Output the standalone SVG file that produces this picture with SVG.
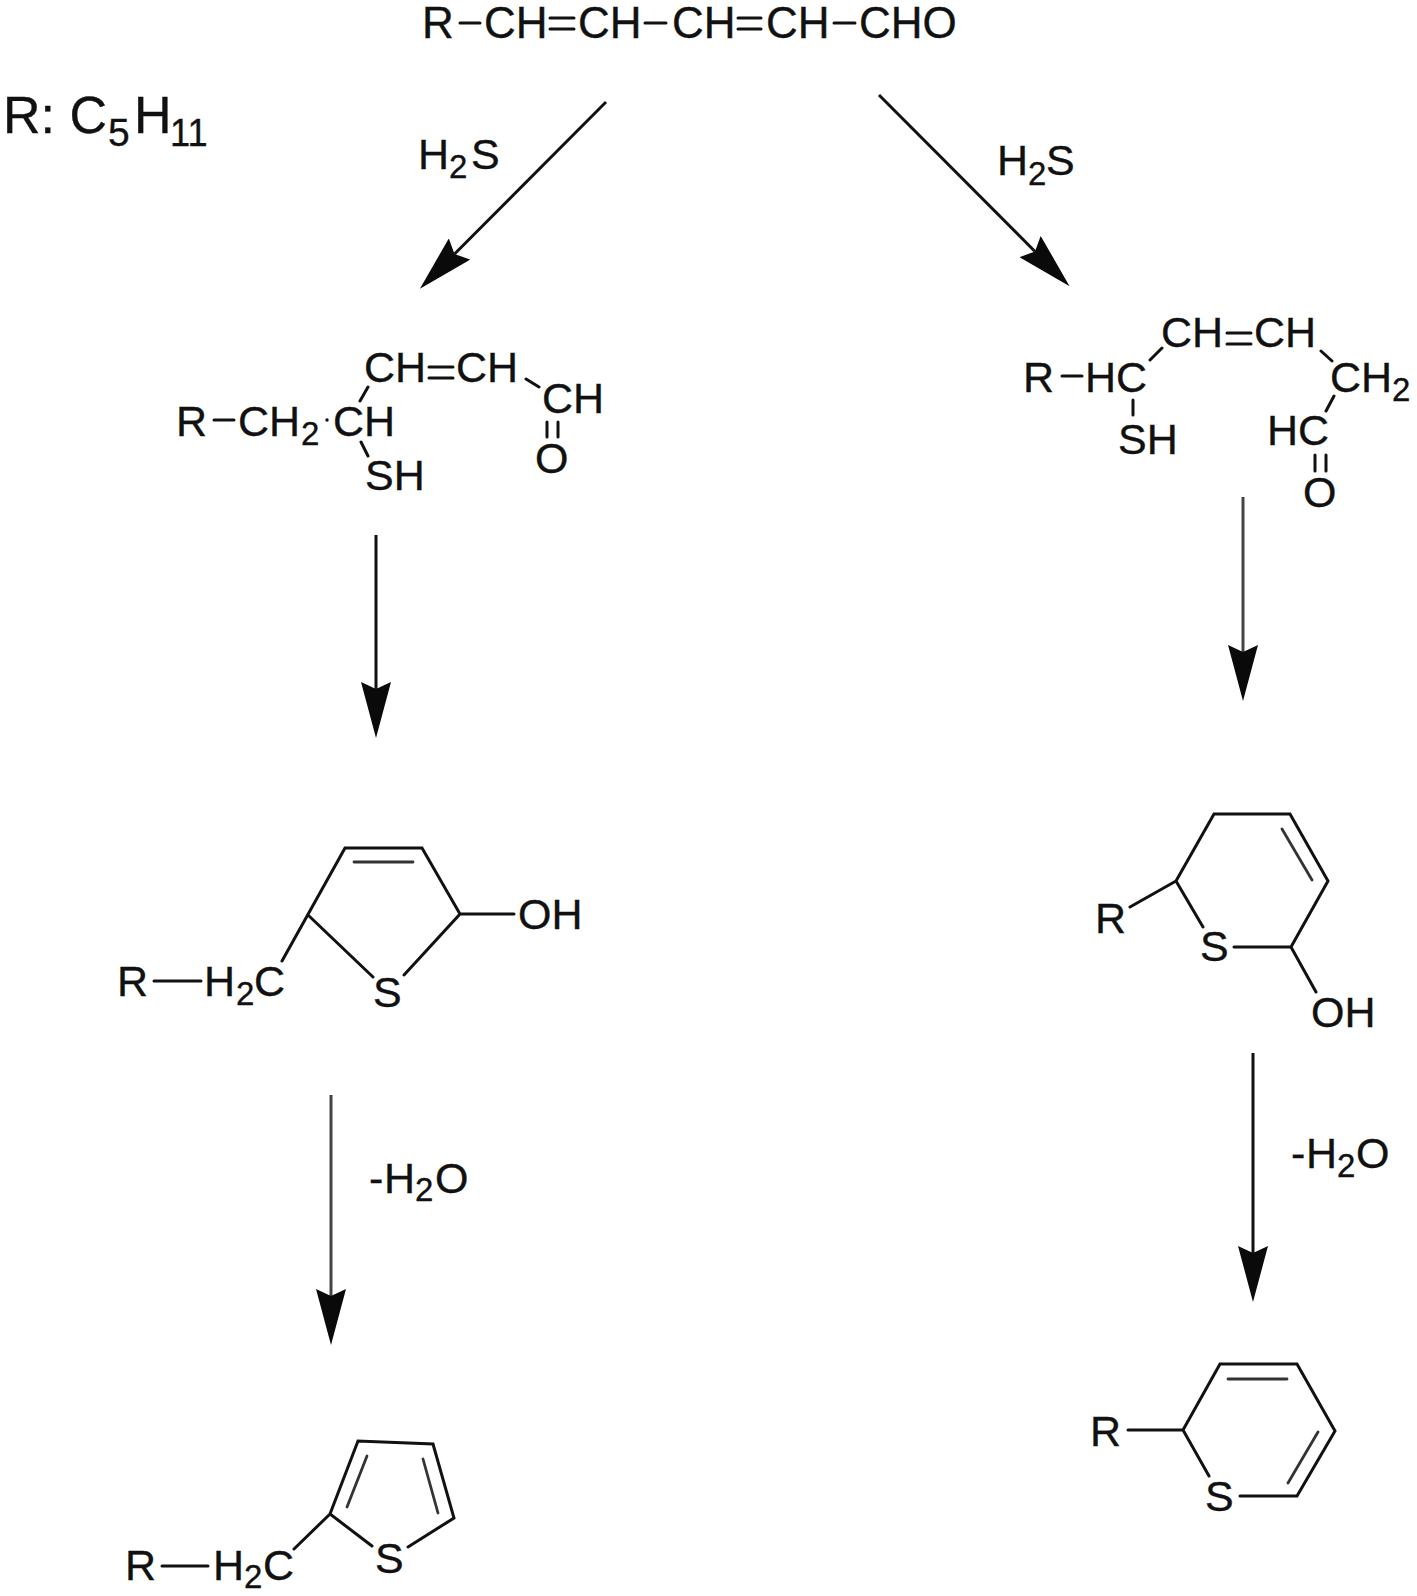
<svg xmlns="http://www.w3.org/2000/svg" width="1417" height="1596" viewBox="0 0 1417 1596">
<style>
text{font-family:"Liberation Sans",Arial,sans-serif;fill:#111;stroke:#111;stroke-width:.35px;font-size:43px}
.top{font-size:44px}
.big{font-size:52px}
.bs{font-size:39px}
.sub{font-size:33px}
.b{stroke:#111;stroke-width:3;fill:none;stroke-linecap:round;stroke-linejoin:miter}
.bi{stroke:#333;stroke-width:2.8;fill:none;stroke-linecap:round}
.a{stroke:#111;stroke-width:3;fill:none;marker-end:url(#head)}
.ag{stroke:#444;stroke-width:3;fill:none;marker-end:url(#head)}
</style>
<defs>
<marker id="head" viewBox="-7 -15 56 30" markerWidth="56" markerHeight="30" refX="0" refY="0" markerUnits="userSpaceOnUse" orient="auto">
<path d="M-7,-15 L49,0 L-7,15 L0,0 Z" fill="#0a0a0a"/>
</marker>
</defs>
<rect width="1417" height="1596" fill="#fff"/>
<g id="connectors">
<line class="a" x1="606" y1="102" x2="454.5" y2="254"/>
<line class="a" x1="879" y1="95" x2="1035" y2="251.5"/>
<line class="a" x1="376" y1="535" x2="376" y2="689"/>
<line class="ag" x1="1243" y1="497" x2="1243" y2="652"/>
<line class="ag" x1="331" y1="1095" x2="331" y2="1296"/>
<line class="a" x1="1253" y1="1053" x2="1253" y2="1253"/>
</g>
<g id="legend">
<text class="big" x="3" y="133">R: C</text>
<text class="bs" x="108" y="146">5</text>
<text class="big" x="134" y="133">H</text>
<text class="bs" transform="translate(170,146) scale(.93,1)">11</text>
</g>
<g id="label-h2s-left"><text x="418" y="169">H<tspan class="sub" x="449" y="178">2</tspan><tspan x="471" y="169">S</tspan></text></g>
<g id="label-h2s-right"><text x="997" y="175">H<tspan class="sub" x="1028" y="185">2</tspan><tspan x="1046" y="175">S</tspan></text></g>
<g id="label-h2o-left"><text x="369" y="1193">-<tspan x="384" y="1193">H</tspan><tspan class="sub" x="415" y="1201">2</tspan><tspan x="435" y="1193">O</tspan></text></g>
<g id="label-h2o-right"><text x="1291" y="1168">-<tspan x="1306" y="1168">H</tspan><tspan class="sub" x="1337" y="1177">2</tspan><tspan x="1356" y="1168">O</tspan></text></g>
<g id="node-dienal">
<text class="top" x="422" y="38">R</text>
<text class="top" x="484" y="38">CH</text>
<text class="top" x="578" y="38">CH</text>
<text class="top" x="672" y="38">CH</text>
<text class="top" x="766" y="38">CH</text>
<text class="top" x="859" y="38">CHO</text>
<path class="b" d="M460,23H480M550,18H574M550,29H574M645,23H666M738,18H761M738,29H761M834,23H855"/>
</g>
<g id="node-thiol-left">
<text x="176" y="436">R</text>
<text x="238" y="436">CH<tspan class="sub" x="301" y="445">2</tspan></text>
<text x="333" y="436">CH</text>
<text x="364" y="382">CH</text>
<text x="456" y="382">CH</text>
<text x="542" y="413">CH</text>
<text x="535" y="473">O</text>
<text x="365" y="490">SH</text>
<circle cx="327" cy="420" r="1.7" fill="#111"/>
<path class="b" d="M214,420H234M368,387L360,401M429,367H453M429,378H453M526,379L539,387M547,422V437M558,422V437M361,442L368,456"/>
</g>
<g id="node-thiol-right">
<text x="1023" y="392">R</text>
<text x="1085" y="392">HC</text>
<text x="1161" y="347">CH</text>
<text x="1254" y="347">CH</text>
<text x="1330" y="392">CH<tspan class="sub" x="1392" y="401">2</tspan></text>
<text x="1267" y="445">HC</text>
<text x="1303" y="507">O</text>
<text x="1118" y="454">SH</text>
<path class="b" d="M1062,376H1082M1150,360L1162,348M1227,333H1251M1227,344H1251M1321,351L1332,361M1334,396L1326,411M1315,455V471M1326,455V471M1133,400V415"/>
</g>
<g id="node-dihydrothiophene">
<text x="117" y="996">R</text>
<text x="204" y="996">H<tspan class="sub" x="236" y="1005">2</tspan><tspan x="254" y="996">C</tspan></text>
<text x="373" y="1007">S</text>
<text x="518" y="929">OH</text>
<path class="b" d="M282,961L345,848H422L460,914L404,975M308,915L373,977M460,914H514M154,981H201"/>
<path class="bi" d="M354,862H413"/>
</g>
<g id="node-dihydrothiopyran">
<text x="1095" y="933">R</text>
<text x="1200" y="961">S</text>
<text x="1311" y="1027">OH</text>
<path class="b" d="M1203,927L1176,881L1214,814H1290L1328,881L1291,947H1234M1176,881L1130,907M1291,947L1316,992"/>
<path class="bi" d="M1282,829L1312,880"/>
</g>
<g id="node-thiophene">
<text x="125" y="1580">R</text>
<text x="213" y="1580">H<tspan class="sub" x="244" y="1588">2</tspan><tspan x="263" y="1580">C</tspan></text>
<text x="375" y="1573">S</text>
<path class="b" d="M372,1546L330,1514L358,1441L433,1444L454,1518L408,1547M330,1514L294,1549M162,1566H208"/>
<path class="bi" d="M367,1456L347,1507M423,1459L438,1513"/>
</g>
<g id="node-thiopyran">
<text x="1090" y="1446">R</text>
<text x="1205" y="1511">S</text>
<path class="b" d="M1209,1476L1183,1430L1220,1364H1297L1335,1431L1297,1496H1240M1128,1430H1183"/>
<path class="bi" d="M1228,1379H1287M1318,1432L1288,1483"/>
</g>
</svg>
